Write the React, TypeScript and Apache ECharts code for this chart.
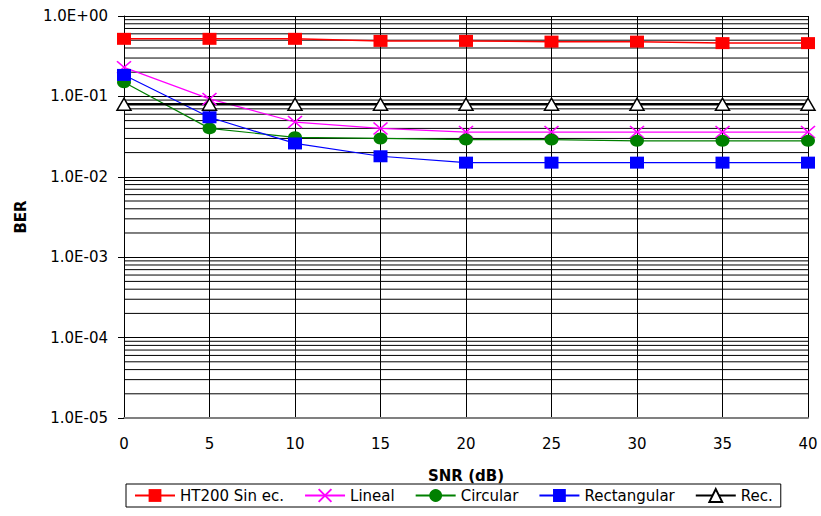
import React, { useEffect, useRef } from "react";
import * as echarts from "echarts";

const snr = [0, 5, 10, 15, 20, 25, 30, 35, 40];
const ht200 = [0.52, 0.52, 0.52, 0.49, 0.49, 0.48, 0.48, 0.46, 0.46];
const lineal = [0.23, 0.093, 0.048, 0.04, 0.036, 0.036, 0.036, 0.036, 0.036];
const circular = [0.15, 0.04, 0.031, 0.03, 0.029, 0.029, 0.028, 0.028, 0.028];
const rectangular = [0.185, 0.055, 0.026, 0.018, 0.015, 0.015, 0.015, 0.015, 0.015];
const rec = [0.08, 0.08, 0.08, 0.08, 0.08, 0.08, 0.08, 0.08, 0.08];
const seriesNames = ["HT200 Sin ec.", "Lineal", "Circular", "Rectangular", "Rec."];
const decadeExponents = [-5, -4, -3, -2, -1];
const minorMultipliers = [2, 3, 4, 5, 6, 7, 8, 9];
const xRange = [0, 40];

const FONT = "DejaVu Sans";

function fmtExp(v: number): string {
  const e = Math.round(Math.log10(v));
  const s = e < 0 ? "-" : "+";
  return "1.0E" + s + String(Math.abs(e)).padStart(2, "0");
}

export default function App() {
  const ref = useRef<HTMLDivElement>(null);
  useEffect(() => {
    document.body.style.margin = "0";
    if (!ref.current) return;
    const chart = echarts.init(ref.current, undefined, { renderer: "svg" });
    const pairs = (ys: number[]) => snr.map((x, i) => [x, ys[i]]);
    const minorValues: number[] = [];
    decadeExponents.forEach((e) =>
      minorMultipliers.forEach((m) => minorValues.push(m * Math.pow(10, e)))
    );
    const gridSeries = minorValues.map((v) => ({
      type: "line",
      silent: true,
      data: [
        [xRange[0], v],
        [xRange[1], v],
      ],
      symbol: "none",
      lineStyle: { color: "#000", width: 1 },
      emphasis: { disabled: true },
      tooltip: { show: false },
      z: 1,
    }));
    const crossPath = "path://M0,0L10,10M10,0L0,10";
    chart.setOption({
      animation: false,
      backgroundColor: "#ffffff",
      textStyle: { fontFamily: FONT },
      grid: { left: 124, right: 13, top: 16, bottom: 98 },
      legend: {
        data: seriesNames,
        left: 126,
        top: 484,
        orient: "horizontal",
        padding: [4, 8],
        itemGap: 20,
        itemWidth: 40,
        itemHeight: 16,
        borderColor: "#000",
        borderWidth: 1,
        borderRadius: 0,
        backgroundColor: "#fff",
        textStyle: { fontFamily: FONT, fontSize: 15, color: "#000" },
      },
      xAxis: {
        type: "value",
        min: xRange[0],
        max: xRange[1],
        interval: 5,
        name: "SNR (dB)",
        nameLocation: "middle",
        nameGap: 50,
        nameTextStyle: { fontFamily: FONT, fontSize: 15, fontWeight: "bold", color: "#000" },
        axisLine: { show: true, onZero: false, lineStyle: { color: "#808080", width: 2 } },
        axisTick: { show: false },
        axisLabel: { margin: 18, fontFamily: FONT, fontSize: 15, color: "#000" },
        splitLine: { show: true, lineStyle: { color: "#000", width: 1 } },
      },
      yAxis: {
        type: "log",
        logBase: 10,
        min: 1e-5,
        max: 1,
        name: "BER",
        nameLocation: "middle",
        nameGap: 96,
        nameTextStyle: { fontFamily: FONT, fontSize: 15, fontWeight: "bold", color: "#000" },
        axisLine: { show: true, lineStyle: { color: "#000", width: 1 } },
        axisTick: { show: true, inside: false, length: 6, lineStyle: { color: "#000" } },
        axisLabel: { margin: 16, fontFamily: FONT, fontSize: 15, color: "#000", formatter: fmtExp },
        splitLine: { show: true, lineStyle: { color: "#000", width: 1 } },
      },
      series: [
        ...gridSeries,
        {
          name: seriesNames[0],
          type: "line",
          data: pairs(ht200),
          symbol: "rect",
          symbolSize: [14, 12],
          lineStyle: { color: "#ff0000", width: 1.5 },
          itemStyle: { color: "#ff0000" },
          z: 3,
        },
        {
          name: seriesNames[1],
          type: "line",
          data: pairs(lineal),
          symbol: crossPath,
          symbolSize: [14, 12],
          lineStyle: { color: "#ff00ff", width: 1.2 },
          itemStyle: { color: "#ff00ff", borderColor: "#ff00ff", borderWidth: 1.5 },
          z: 3,
        },
        {
          name: seriesNames[2],
          type: "line",
          data: pairs(circular),
          symbol: "circle",
          symbolSize: [14, 12],
          lineStyle: { color: "#008000", width: 1.2 },
          itemStyle: { color: "#008000" },
          z: 3,
        },
        {
          name: seriesNames[3],
          type: "line",
          data: pairs(rectangular),
          symbol: "rect",
          symbolSize: [14, 12],
          lineStyle: { color: "#0000ff", width: 1.2 },
          itemStyle: { color: "#0000ff" },
          z: 3,
        },
        {
          name: seriesNames[4],
          type: "line",
          data: pairs(rec),
          symbol: "triangle",
          symbolSize: [14, 12],
          lineStyle: { color: "#000", width: 2.5 },
          itemStyle: { color: "#fff", borderColor: "#000", borderWidth: 1.5 },
          z: 3,
        },
      ],
    });
    return () => chart.dispose();
  }, []);
  return <div ref={ref} style={{ width: 821, height: 516 }} />;
}
